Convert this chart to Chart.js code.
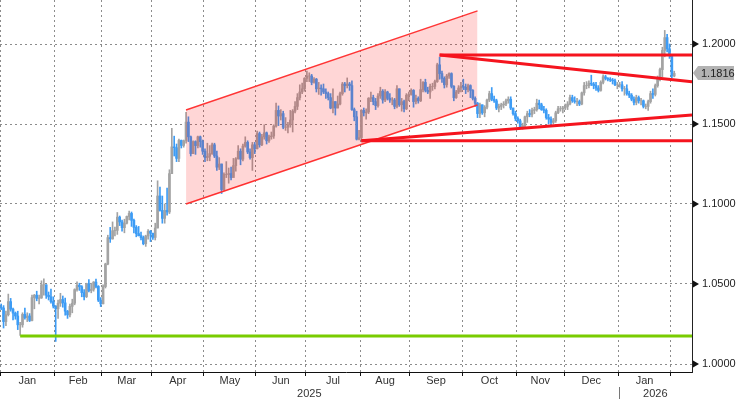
<!DOCTYPE html>
<html>
<head>
<meta charset="utf-8">
<script src="https://cdn.jsdelivr.net/npm/chart.js@4.4.1/dist/chart.umd.min.js"></script>
<style>
  html, body { margin: 0; padding: 0; background: #fff; }
</style>
</head>
<body>
<canvas id="myChart" width="736" height="399"></canvas>
<script>
// EUR/USD daily candles, Jan 2025 - early Feb 2026 (one slot per weekday)
const monthLabels = ['Jan', 'Feb', 'Mar', 'Apr', 'May', 'Jun', 'Jul', 'Aug', 'Sep', 'Oct', 'Nov', 'Dec', 'Jan'];
const monthStarts = [0, 23, 43, 64, 86, 108, 129, 152, 173, 195, 218, 238, 261, 283];
const yearLabels = ['2025', '2026'];
const yearStarts = [0, 261];
const lastSlot = 291;

const yTicks = [1.0000, 1.0500, 1.1000, 1.1500, 1.2000];

const firstOpen = 1.0355;
const closes = [
  1.0350, 1.0265, 1.0308, 1.0390, 1.0343, 1.0318, 1.0300, 1.0245, 1.0245, 1.0310, 1.0290, 1.0300, 1.0272, 1.0415, 1.0430, 1.0410, 1.0413, 1.0495, 1.0495, 1.0430, 1.0420, 1.0390, 1.0362,
  1.0345, 1.0380, 1.0403, 1.0382, 1.0330, 1.0307, 1.0360, 1.0380, 1.0465, 1.0492, 1.0483, 1.0446, 1.0421, 1.0502, 1.0459, 1.0467, 1.0512, 1.0485, 1.0399, 1.0376,
  1.0484, 1.0625, 1.0790, 1.0782, 1.0833, 1.0835, 1.0918, 1.0888, 1.0852, 1.0880, 1.0922, 1.0941, 1.0898, 1.0854, 1.0815, 1.0802, 1.0790, 1.0752, 1.0800, 1.0829, 1.0817,
  1.0791, 1.0850, 1.1050, 1.0960, 1.0910, 1.0960, 1.0950, 1.1190, 1.1357, 1.1352, 1.1285, 1.1397, 1.1366, 1.1395, 1.1512, 1.1420, 1.1315, 1.1390, 1.1365, 1.1420, 1.1390, 1.1330,
  1.1290, 1.1298, 1.1315, 1.1370, 1.1300, 1.1230, 1.1250, 1.1090, 1.1185, 1.1185, 1.1190, 1.1165, 1.1240, 1.1283, 1.1330, 1.1280, 1.1362, 1.1385, 1.1325, 1.1290, 1.1370, 1.1345,
  1.1440, 1.1370, 1.1420, 1.1445, 1.1395, 1.1420, 1.1425, 1.1487, 1.1585, 1.1550, 1.1565, 1.1480, 1.1480, 1.1495, 1.1525, 1.1580, 1.1610, 1.1665, 1.1700, 1.1720, 1.1785,
  1.1800, 1.1800, 1.1760, 1.1780, 1.1720, 1.1725, 1.1720, 1.1700, 1.1690, 1.1665, 1.1600, 1.1640, 1.1600, 1.1625, 1.1690, 1.1750, 1.1740, 1.1750, 1.1740, 1.1590, 1.1545, 1.1405, 1.1415,
  1.1585, 1.1570, 1.1575, 1.1660, 1.1665, 1.1640, 1.1615, 1.1675, 1.1705, 1.1650, 1.1700, 1.1660, 1.1650, 1.1650, 1.1610, 1.1720, 1.1620, 1.1640, 1.1595, 1.1680, 1.1685,
  1.1710, 1.1640, 1.1660, 1.1645, 1.1715, 1.1760, 1.1710, 1.1700, 1.1735, 1.1735, 1.1765, 1.1870, 1.1815, 1.1785, 1.1745, 1.1800, 1.1815, 1.1735, 1.1665, 1.1700, 1.1725, 1.1735,
  1.1730, 1.1715, 1.1740, 1.1710, 1.1660, 1.1630, 1.1565, 1.1620, 1.1570, 1.1605, 1.1650, 1.1690, 1.1655, 1.1645, 1.1600, 1.1610, 1.1620, 1.1625, 1.1645, 1.1655, 1.1600, 1.1565, 1.1535,
  1.1520, 1.1480, 1.1490, 1.1545, 1.1565, 1.1560, 1.1585, 1.1590, 1.1630, 1.1620, 1.1590, 1.1585, 1.1540, 1.1530, 1.1510, 1.1520, 1.1570, 1.1595, 1.1595, 1.1600,
  1.1610, 1.1625, 1.1665, 1.1645, 1.1640, 1.1640, 1.1625, 1.1695, 1.1740, 1.1740, 1.1755, 1.1750, 1.1740, 1.1725, 1.1710, 1.1760, 1.1795, 1.1785, 1.1780, 1.1775, 1.1770, 1.1745, 1.1745,
  1.1745, 1.1720, 1.1720, 1.1690, 1.1680, 1.1655, 1.1635, 1.1665, 1.1645, 1.1645, 1.1610, 1.1610, 1.1640, 1.1690, 1.1685, 1.1740, 1.1780, 1.1840, 1.1960, 1.2040, 1.1970, 1.1930, 1.1800, 1.1816
];
const highs = [
  1.0375, 1.0365, 1.0330, 1.0437, 1.0410, 1.0350, 1.0325, 1.0330, 1.0260, 1.0320, 1.0350, 1.0320, 1.0315, 1.0430, 1.0435, 1.0455, 1.0430, 1.0520, 1.0533, 1.0495, 1.0450, 1.0468, 1.0420,
  1.0365, 1.0400, 1.0442, 1.0425, 1.0412, 1.0335, 1.0375, 1.0405, 1.0470, 1.0513, 1.0505, 1.0490, 1.0465, 1.0505, 1.0528, 1.0505, 1.0515, 1.0530, 1.0490, 1.0415,
  1.0495, 1.0630, 1.0805, 1.0854, 1.0888, 1.0855, 1.0947, 1.0925, 1.0900, 1.0905, 1.0925, 1.0955, 1.0950, 1.0905, 1.0865, 1.0860, 1.0825, 1.0800, 1.0805, 1.0840, 1.0835,
  1.0818, 1.0880, 1.1145, 1.1105, 1.1050, 1.1000, 1.1100, 1.1214, 1.1473, 1.1424, 1.1375, 1.1405, 1.1400, 1.1400, 1.1573, 1.1545, 1.1425, 1.1395, 1.1395, 1.1425, 1.1425, 1.1400,
  1.1345, 1.1380, 1.1365, 1.1380, 1.1380, 1.1330, 1.1290, 1.1250, 1.1195, 1.1265, 1.1225, 1.1230, 1.1285, 1.1290, 1.1365, 1.1345, 1.1375, 1.1420, 1.1395, 1.1345, 1.1385, 1.1385,
  1.1455, 1.1450, 1.1435, 1.1495, 1.1450, 1.1430, 1.1450, 1.1495, 1.1630, 1.1613, 1.1590, 1.1580, 1.1540, 1.1510, 1.1585, 1.1590, 1.1640, 1.1690, 1.1745, 1.1755, 1.1790,
  1.1830, 1.1820, 1.1810, 1.1790, 1.1785, 1.1760, 1.1745, 1.1750, 1.1720, 1.1700, 1.1690, 1.1720, 1.1640, 1.1675, 1.1700, 1.1760, 1.1760, 1.1788, 1.1760, 1.1770, 1.1600, 1.1580, 1.1460,
  1.1590, 1.1600, 1.1595, 1.1665, 1.1700, 1.1680, 1.1660, 1.1690, 1.1730, 1.1715, 1.1715, 1.1705, 1.1690, 1.1665, 1.1660, 1.1740, 1.1720, 1.1660, 1.1650, 1.1690, 1.1700,
  1.1720, 1.1715, 1.1680, 1.1670, 1.1780, 1.1765, 1.1780, 1.1730, 1.1750, 1.1755, 1.1775, 1.1880, 1.1918, 1.1830, 1.1795, 1.1810, 1.1820, 1.1820, 1.1740, 1.1710, 1.1740, 1.1760,
  1.1780, 1.1750, 1.1750, 1.1745, 1.1715, 1.1670, 1.1635, 1.1630, 1.1620, 1.1615, 1.1655, 1.1705, 1.1728, 1.1675, 1.1655, 1.1625, 1.1630, 1.1640, 1.1655, 1.1670, 1.1670, 1.1600, 1.1580,
  1.1545, 1.1530, 1.1505, 1.1550, 1.1580, 1.1590, 1.1600, 1.1605, 1.1655, 1.1650, 1.1630, 1.1610, 1.1595, 1.1560, 1.1545, 1.1535, 1.1580, 1.1610, 1.1610, 1.1610,
  1.1625, 1.1640, 1.1680, 1.1680, 1.1670, 1.1660, 1.1650, 1.1700, 1.1760, 1.1765, 1.1770, 1.1805, 1.1760, 1.1760, 1.1740, 1.1770, 1.1808, 1.1805, 1.1790, 1.1790, 1.1785, 1.1780, 1.1760,
  1.1760, 1.1765, 1.1735, 1.1745, 1.1705, 1.1690, 1.1670, 1.1680, 1.1675, 1.1660, 1.1650, 1.1625, 1.1650, 1.1705, 1.1720, 1.1750, 1.1800, 1.1850, 1.1980, 1.2085, 1.2060, 1.2000, 1.1935, 1.1830
];
const lows = [
  1.0340, 1.0225, 1.0240, 1.0300, 1.0330, 1.0275, 1.0280, 1.0215, 1.0178, 1.0230, 1.0280, 1.0265, 1.0265, 1.0270, 1.0345, 1.0395, 1.0375, 1.0410, 1.0430, 1.0410, 1.0400, 1.0380, 1.0350,
  1.0141, 1.0285, 1.0360, 1.0355, 1.0305, 1.0285, 1.0295, 1.0320, 1.0370, 1.0455, 1.0460, 1.0420, 1.0400, 1.0415, 1.0450, 1.0445, 1.0455, 1.0475, 1.0390, 1.0359,
  1.0375, 1.0475, 1.0620, 1.0760, 1.0780, 1.0800, 1.0810, 1.0865, 1.0830, 1.0820, 1.0875, 1.0900, 1.0860, 1.0820, 1.0795, 1.0800, 1.0775, 1.0745, 1.0735, 1.0780, 1.0765,
  1.0778, 1.0775, 1.0850, 1.0955, 1.0880, 1.0880, 1.0930, 1.0940, 1.1190, 1.1300, 1.1265, 1.1265, 1.1350, 1.1355, 1.1380, 1.1390, 1.1300, 1.1315, 1.1310, 1.1350, 1.1355, 1.1310,
  1.1265, 1.1270, 1.1270, 1.1310, 1.1290, 1.1210, 1.1215, 1.1065, 1.1085, 1.1165, 1.1130, 1.1150, 1.1175, 1.1205, 1.1280, 1.1245, 1.1270, 1.1355, 1.1315, 1.1280, 1.1210, 1.1315,
  1.1345, 1.1355, 1.1365, 1.1405, 1.1375, 1.1385, 1.1405, 1.1410, 1.1480, 1.1490, 1.1525, 1.1470, 1.1460, 1.1445, 1.1480, 1.1450, 1.1570, 1.1590, 1.1650, 1.1690, 1.1705,
  1.1765, 1.1765, 1.1745, 1.1755, 1.1700, 1.1685, 1.1680, 1.1690, 1.1660, 1.1650, 1.1595, 1.1570, 1.1556, 1.1600, 1.1620, 1.1680, 1.1700, 1.1725, 1.1710, 1.1585, 1.1520, 1.1400, 1.1400,
  1.1391, 1.1550, 1.1530, 1.1565, 1.1640, 1.1620, 1.1590, 1.1605, 1.1660, 1.1630, 1.1640, 1.1650, 1.1635, 1.1620, 1.1595, 1.1600, 1.1610, 1.1580, 1.1575, 1.1590, 1.1645,
  1.1680, 1.1605, 1.1625, 1.1630, 1.1640, 1.1700, 1.1700, 1.1690, 1.1660, 1.1710, 1.1720, 1.1760, 1.1780, 1.1760, 1.1725, 1.1730, 1.1785, 1.1725, 1.1645, 1.1660, 1.1690, 1.1700,
  1.1715, 1.1690, 1.1700, 1.1665, 1.1650, 1.1610, 1.1540, 1.1540, 1.1560, 1.1545, 1.1595, 1.1640, 1.1645, 1.1635, 1.1590, 1.1575, 1.1590, 1.1600, 1.1615, 1.1630, 1.1590, 1.1555, 1.1520,
  1.1505, 1.1475, 1.1468, 1.1475, 1.1510, 1.1545, 1.1545, 1.1565, 1.1580, 1.1595, 1.1585, 1.1570, 1.1530, 1.1500, 1.1491, 1.1500, 1.1510, 1.1565, 1.1580, 1.1570,
  1.1590, 1.1590, 1.1620, 1.1635, 1.1630, 1.1615, 1.1615, 1.1620, 1.1680, 1.1720, 1.1725, 1.1740, 1.1720, 1.1710, 1.1700, 1.1705, 1.1750, 1.1775, 1.1770, 1.1765, 1.1750, 1.1740, 1.1720,
  1.1730, 1.1705, 1.1680, 1.1680, 1.1665, 1.1645, 1.1620, 1.1620, 1.1630, 1.1620, 1.1600, 1.1595, 1.1585, 1.1630, 1.1660, 1.1675, 1.1730, 1.1770, 1.1795, 1.1920, 1.1950, 1.1910, 1.1790, 1.1795
];

// trend lines drawn on the chart: [slot, price] end points
const channelTop = [[78, 1.1588], [201, 1.2207]];
const channelBottom = [[78, 1.1000], [201, 1.1619]];
const septHigh = [[185, 1.1931], [291.5, 1.1931]];
const septTrend = [[185, 1.1931], [291.5, 1.1764]];
const augLow = [[152, 1.1396], [291.5, 1.1396]];
const augTrend = [[152, 1.1396], [291.5, 1.1556]];
const janLow = [[8, 1.0175], [291.5, 1.0175]];

const UP = '#a3a3a3';
const DOWN = '#3d9cf5';

const opens = closes.map((c, i) => (i === 0 ? firstOpen : closes[i - 1]));
const barColors = closes.map((c, i) => (c < opens[i] ? DOWN : UP));
const wicks = closes.map((c, i) => ({ x: i, y: [lows[i], highs[i]] }));
const bodies = closes.map((c, i) => ({ x: i, y: [opens[i], c] }));
const pts = arr => arr.map(p => ({ x: p[0], y: p[1] }));

const monthMids = monthLabels.map((m, k) => (monthStarts[k] + monthStarts[k + 1]) / 2 - 0.5);
const yearMids = yearLabels.map((m, k) => {
  const a = yearStarts[k] - 0.5;
  const b = k + 1 < yearStarts.length ? yearStarts[k + 1] - 0.5 : lastSlot + 0.5;
  return (a + b) / 2;
});

Chart.defaults.font.family = '"Liberation Sans", Arial, sans-serif';
Chart.defaults.font.size = 11;
Chart.defaults.color = '#333';

const trendLine = (data, color, width) => ({
  type: 'line', data: pts(data), borderColor: color, borderWidth: width,
  pointRadius: 0, tension: 0, fill: false, order: 1,
});

const decor = {
  id: 'decor',
  afterDraw(chart) {
    const { ctx, chartArea } = chart;
    const { x, y, xy } = chart.scales;
    const right = chartArea.right;
    ctx.save();
    // small arrow heads in front of the price labels
    ctx.fillStyle = '#111';
    yTicks.forEach(v => {
      const py = Math.round(y.getPixelForValue(v));
      ctx.beginPath();
      ctx.moveTo(right + 1, py - 3.5);
      ctx.lineTo(right + 7, py);
      ctx.lineTo(right + 1, py + 3.5);
      ctx.closePath();
      ctx.fill();
    });
    // last price tag
    const last = closes[closes.length - 1];
    const py = Math.round(y.getPixelForValue(last));
    ctx.fillStyle = '#b3b3b3';
    ctx.beginPath();
    ctx.moveTo(right + 1, py);
    ctx.lineTo(right + 6, py - 7);
    ctx.lineTo(right + 42, py - 7);
    ctx.lineTo(right + 42, py + 7);
    ctx.lineTo(right + 6, py + 7);
    ctx.closePath();
    ctx.fill();
    ctx.fillStyle = '#222';
    ctx.font = '11px "Liberation Sans", Arial, sans-serif';
    ctx.textBaseline = 'middle';
    ctx.fillText(last.toFixed(4), right + 9, py + 0.5);
    // year divider below the month labels
    const sx = Math.round(x.getPixelForValue(yearStarts[1] - 0.5)) + 0.5;
    ctx.strokeStyle = '#777';
    ctx.lineWidth = 1;
    ctx.beginPath();
    ctx.moveTo(sx, xy.top);
    ctx.lineTo(sx, chart.height);
    ctx.stroke();
    ctx.restore();
  },
};

const myChart = new Chart(document.getElementById('myChart'), {
  type: 'bar',
  data: {
    datasets: [
      trendLine(janLow, '#79cc00', 3),
      trendLine(septHigh, '#f5141e', 3),
      trendLine(septTrend, '#f5141e', 3),
      trendLine(augLow, '#f5141e', 3),
      trendLine(augTrend, '#f5141e', 3),
      {
        type: 'line', data: pts(channelTop), borderColor: '#ff3535', borderWidth: 1.5,
        pointRadius: 0, fill: '+1', backgroundColor: 'rgba(255, 0, 0, 0.16)', order: 2,
      },
      {
        type: 'line', data: pts(channelBottom), borderColor: '#ff3535', borderWidth: 1.5,
        pointRadius: 0, fill: false, order: 2,
      },
      { type: 'bar', data: bodies, backgroundColor: barColors, barThickness: 2, grouped: false, order: 3 },
      { type: 'bar', data: wicks, backgroundColor: barColors, barThickness: 1, grouped: false, order: 4 },
    ],
  },
  options: {
    responsive: false,
    animation: false,
    layout: { padding: 0 },
    plugins: { legend: { display: false }, tooltip: { enabled: false } },
    scales: {
      x: {
        type: 'linear', position: 'bottom', weight: 0,
        min: -0.5, max: lastSlot + 0.5, offset: false,
        afterBuildTicks: s => { s.ticks = monthStarts.map(m => ({ value: m - 0.5 })); },
        ticks: { autoSkip: false, callback: () => '', padding: 0 },
        grid: { color: '#8c8c8c', offset: false, tickLength: 4, tickColor: '#111', tickBorderDash: [] },
        border: { display: true, color: '#111', dash: [2, 3] },
        afterFit: s => { s.height = 2; s.paddingLeft = 0; s.paddingRight = 0; },
      },
      xm: {
        type: 'linear', position: 'bottom', weight: 1,
        min: -0.5, max: lastSlot + 0.5, offset: false,
        afterBuildTicks: s => { s.ticks = monthMids.map(v => ({ value: v })); },
        ticks: { autoSkip: false, maxRotation: 0, padding: 0, callback: (v, i) => monthLabels[i] },
        grid: { display: false, drawTicks: false },
        border: { display: false },
        afterFit: s => { s.height = 13; s.paddingLeft = 0; s.paddingRight = 0; },
      },
      xy: {
        type: 'linear', position: 'bottom', weight: 2,
        min: -0.5, max: lastSlot + 0.5, offset: false,
        afterBuildTicks: s => { s.ticks = yearMids.map(v => ({ value: v })); },
        ticks: { autoSkip: false, maxRotation: 0, padding: 0, callback: (v, i) => yearLabels[i] },
        grid: { display: false, drawTicks: false },
        border: { display: false },
        afterFit: s => { s.height = 12; s.paddingLeft = 0; s.paddingRight = 0; },
      },
      y: {
        position: 'right', min: 0.995, max: 1.2275,
        afterBuildTicks: s => { s.ticks = yTicks.map(v => ({ value: v })); },
        ticks: { padding: 10, color: '#222', callback: v => v.toFixed(4) },
        grid: { color: '#8c8c8c', drawTicks: false },
        border: { display: true, color: '#222', dash: [2, 3] },
        afterFit: s => { s.width = 44; s.paddingTop = 0; s.paddingBottom = 0; },
      },
    },
  },
  plugins: [decor],
});
</script>
</body>
</html>
